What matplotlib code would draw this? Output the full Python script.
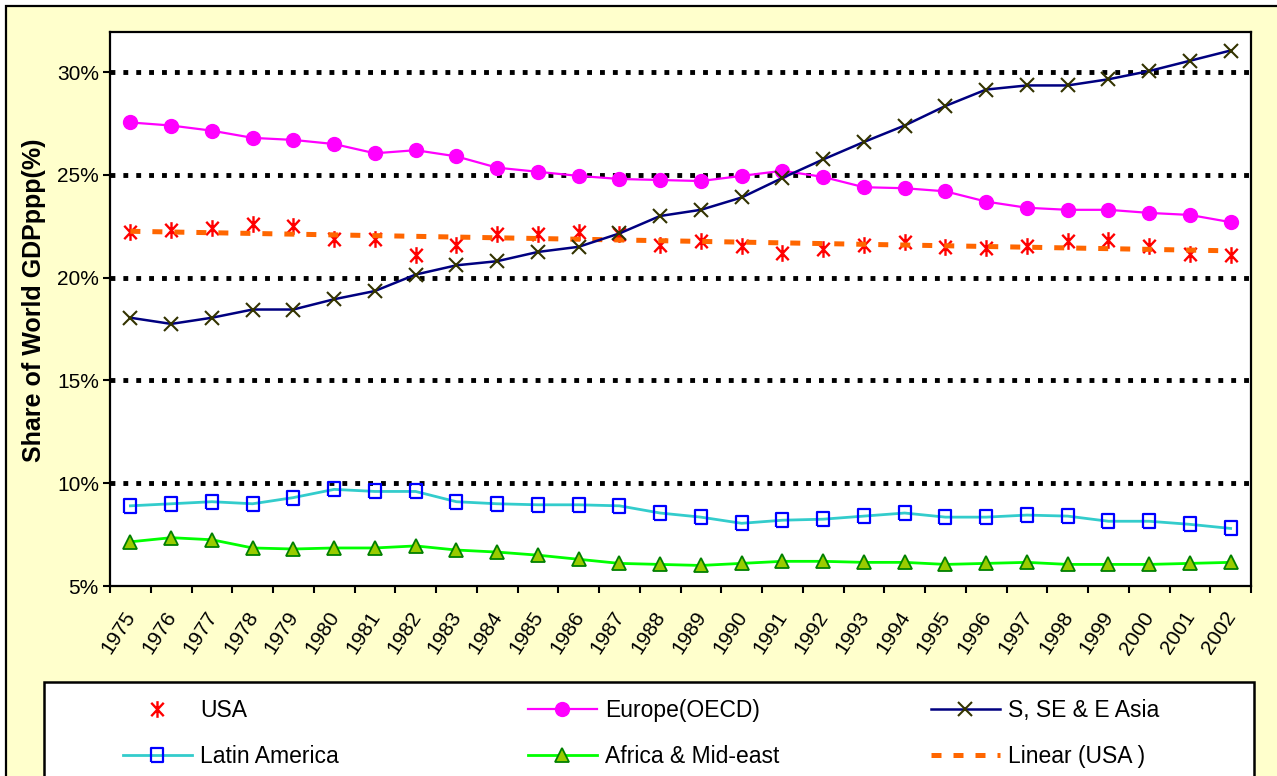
import matplotlib
matplotlib.use("Agg")
import matplotlib.pyplot as plt
import matplotlib.transforms as mtransforms
from matplotlib.lines import Line2D
from matplotlib.patches import Rectangle
from matplotlib.path import Path
from matplotlib.ticker import FixedLocator, FuncFormatter
import numpy as np

plt.rcParams["font.family"] = ["Liberation Sans", "DejaVu Sans"]

years = list(range(1975, 2003))

usa = [22.2, 22.3, 22.4, 22.6, 22.5, 21.9, 21.9, 21.1, 21.6, 22.1, 22.1, 22.2, 22.1, 21.6,
       21.8, 21.55, 21.2, 21.4, 21.6, 21.75, 21.5, 21.45, 21.55, 21.8, 21.85, 21.55, 21.15, 21.1]
europe = [27.55, 27.4, 27.15, 26.8, 26.7, 26.5, 26.05, 26.2, 25.9, 25.35, 25.15, 24.95, 24.8, 24.75,
          24.7, 24.95, 25.2, 24.9, 24.4, 24.35, 24.2, 23.7, 23.4, 23.3, 23.3, 23.15, 23.05, 22.7]
asia = [18.05, 17.75, 18.05, 18.45, 18.45, 18.95, 19.35, 20.15, 20.6, 20.8, 21.25, 21.5, 22.15, 23.0,
        23.3, 23.9, 24.85, 25.75, 26.6, 27.4, 28.35, 29.15, 29.35, 29.35, 29.65, 30.05, 30.55, 31.05]
latin = [8.9, 9.0, 9.1, 9.0, 9.3, 9.7, 9.6, 9.6, 9.1, 9.0, 8.95, 8.95, 8.9, 8.55,
         8.35, 8.05, 8.2, 8.25, 8.4, 8.55, 8.35, 8.35, 8.45, 8.4, 8.15, 8.15, 8.0, 7.8]
africa = [7.15, 7.35, 7.25, 6.85, 6.8, 6.85, 6.85, 6.95, 6.75, 6.65, 6.5, 6.3, 6.1, 6.05,
          6.0, 6.1, 6.2, 6.2, 6.15, 6.15, 6.05, 6.1, 6.15, 6.05, 6.05, 6.05, 6.1, 6.15]

y_ticks = [5, 10, 15, 20, 25, 30]

W, H = 1277, 776
fig = plt.figure(figsize=(W / 100, H / 100), dpi=100, facecolor="white")

# chart area: yellow with black border, cut off at right and bottom
fig.patches.append(Rectangle((6 / W, -0.2), 1.2, 1 - 6 / H + 0.2, transform=fig.transFigure,
                             facecolor="#FFFFCC", edgecolor="black", linewidth=1.6, zorder=-2))

ax = fig.add_axes([110 / W, 1 - 586 / H, (1251 - 110) / W, (586 - 32) / H])
ax.set_zorder(1)
ax.set_facecolor("white")

x = np.arange(len(years))

# Excel style asterisk: X plus vertical bar
star = Path([(0, -1), (0, 1), (-0.75, -0.8), (0.75, 0.8), (-0.75, 0.8), (0.75, -0.8)],
            [Path.MOVETO, Path.LINETO, Path.MOVETO, Path.LINETO, Path.MOVETO, Path.LINETO])
tall_square = [(-0.78, -1), (0.78, -1), (0.78, 1), (-0.78, 1), (-0.78, -1)]

for yv in y_ticks[1:]:
    ax.axhline(yv, color="black", linewidth=3.5, linestyle=(0, (1.0, 1.65)),
               dash_capstyle="butt", zorder=1)

usa_style = dict(linestyle="none", marker=star, markersize=12, markeredgecolor="#FF0000",
                 markerfacecolor="none", markeredgewidth=1.7)
eur_style = dict(color="#FF00FF", linewidth=1.6, marker="o", markersize=10,
                 markerfacecolor="#FF00FF", markeredgecolor="#FF00FF")
asia_style = dict(color="#000080", linewidth=1.8, marker="x", markersize=9.5,
                  markeredgecolor="#333300", markeredgewidth=1.5)
lat_style = dict(color="#33CCCC", linewidth=2.0, marker=tall_square, markersize=10.5,
                 markerfacecolor="none", markeredgecolor="#0000FF", markeredgewidth=1.6)
afr_style = dict(color="#00FF00", linewidth=2.0, marker="^", markersize=10,
                 markerfacecolor="#99CC00", markeredgecolor="#008000", markeredgewidth=1.3)
trend_style = dict(color="#FF6600", linewidth=3.6, linestyle=(0, (2.0, 2.4)), dash_capstyle="butt")

ax.plot(x, usa, zorder=3, **usa_style)
fit = np.polyfit(x, usa, 1)
ax.plot(x, np.polyval(fit, x), zorder=3.5, **trend_style)
ax.plot(x, europe, zorder=4, **eur_style)
ax.plot(x, asia, zorder=4, **asia_style)
ax.plot(x, latin, zorder=4, **lat_style)
ax.plot(x, africa, zorder=4, **afr_style)

ax.set_xlim(-0.5, len(years) - 0.5)
ax.set_ylim(5, 31.95)
ax.yaxis.set_major_locator(FixedLocator(y_ticks))
ax.yaxis.set_major_formatter(FuncFormatter(lambda v, p: f"{v:.0f}%"))
ax.set_xticks(x)
ax.set_xticklabels([str(y) for y in years], rotation=57, ha="right", va="top", fontsize=15)
ax.set_xticks(np.arange(-0.5, len(years)), minor=True)
ax.tick_params(axis="x", which="major", length=0, pad=16)
ax.tick_params(axis="x", which="minor", length=5, width=1.5, direction="out")
ax.tick_params(axis="y", length=5, width=1.5, direction="out", pad=3, labelsize=15)
offset = mtransforms.ScaledTranslation(9 / 100, 0, fig.dpi_scale_trans)
for lab in ax.get_xticklabels():
    lab.set_transform(lab.get_transform() + offset)
for sp in ax.spines.values():
    sp.set_linewidth(1.6)

fig.text(34 / W, 1 - 300 / H, "Share of World GDPppp(%)", rotation=90, ha="center", va="center",
         fontsize=18, fontweight="bold")

# legend box
fig.patches.append(Rectangle((44 / W, -0.2), (1254 - 44) / W, 1 - 682 / H + 0.2,
                             transform=fig.transFigure, facecolor="white", edgecolor="black",
                             linewidth=1.8, zorder=-1))

columns = [
    [("USA", usa_style), ("Latin America", lat_style)],
    [("Europe(OECD)", eur_style), ("Africa & Mid-east", afr_style)],
    [("S, SE & E Asia", asia_style), ("Linear (USA )", trend_style)],
]
col_x = [123, 528, 931]
for cx, col in zip(col_x, columns):
    handles = [Line2D([], [], **st) for _, st in col]
    labels = [lab for lab, _ in col]
    leg = fig.legend(handles, labels, loc="upper left", bbox_to_anchor=(cx / W, 1 - 699 / H),
                     frameon=False, borderpad=0, borderaxespad=0, handlelength=3.0,
                     handletextpad=0.35, labelspacing=1.02, fontsize=16.5, numpoints=1)
    leg.set_zorder(5)

fig.savefig("out.png", dpi=100, facecolor=fig.get_facecolor())
